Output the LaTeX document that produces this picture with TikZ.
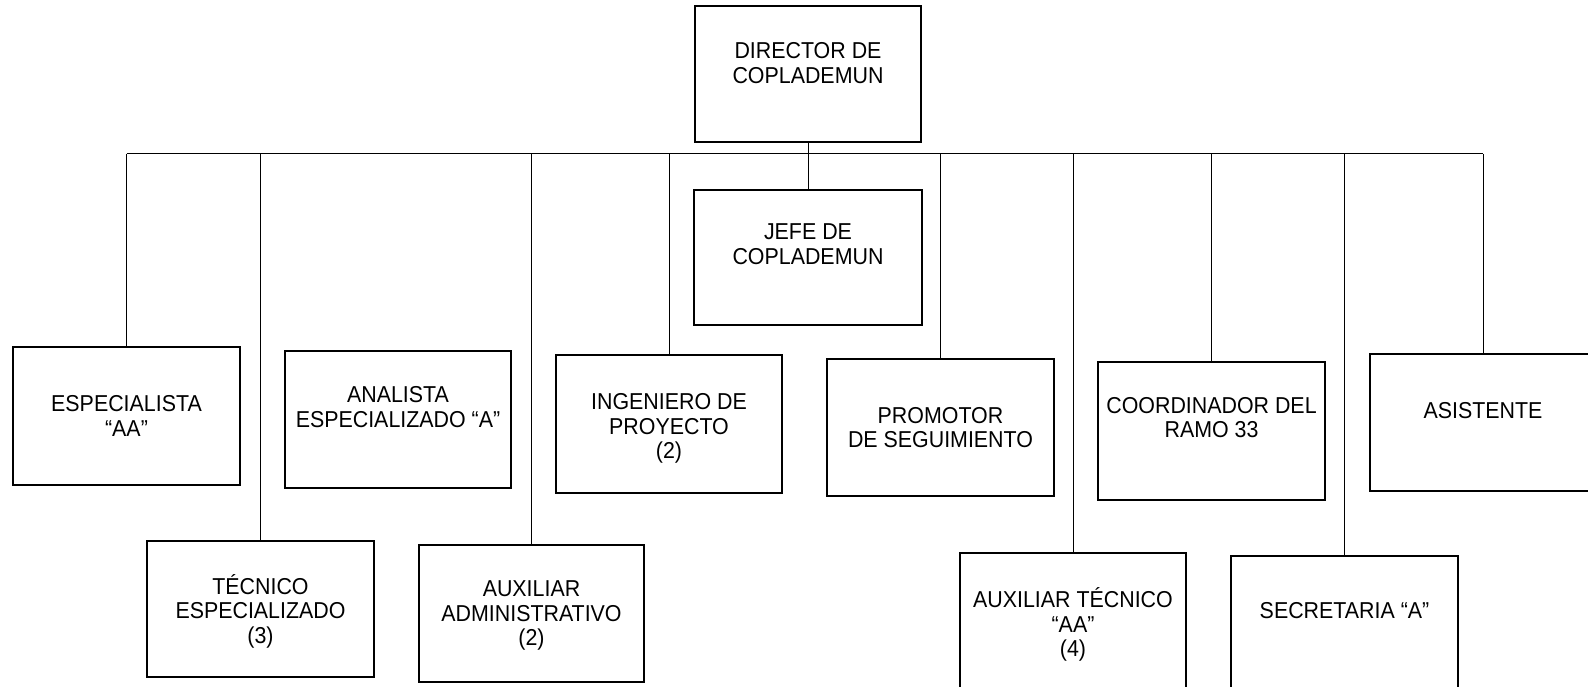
\documentclass[tikz,border=0pt]{standalone}
\usepackage{fontspec}
\newfontfamily\orgfont{Liberation Sans}[FakeStretch=0.93]
\begin{document}
\begin{tikzpicture}[x=1pt,y=-1pt,
  box/.style={draw, line width=1.5pt, minimum width=226pt, minimum height=137pt, inner sep=0pt},
  lbl/.style={font=\orgfont\fontsize{23pt}{24.5pt}\selectfont, align=center, inner sep=0pt, text depth=0pt},
  conn/.style={line width=1pt}]
\useasboundingbox (0,0) rectangle (1588,687);
\clip (0,0) rectangle (1588,687);
\fill[white] (0,0) rectangle (1588,687);

% boxes
\node[box, minimum height=136pt] (dir) at (808,74) {};
\node[box, minimum width=228pt, minimum height=135pt] (jefe) at (808,257.5) {};
\node[box, minimum width=227pt, minimum height=138pt] (esp) at (126.5,416) {};
\node[box] (ana) at (398,419.5) {};
\node[box, minimum height=138pt] (ing) at (669,424) {};
\node[box, minimum width=227pt] (pro) at (940.5,427.5) {};
\node[box, minimum width=227pt, minimum height=138pt] (coo) at (1211.5,431) {};
\node[box] (asi) at (1483,422.5) {};
\node[box, minimum width=227pt, minimum height=136pt] (tec) at (260.5,609) {};
\node[box, minimum width=225pt] (aux) at (531.5,613.5) {};
\node[box] (axt) at (1073,621.5) {};
\node[box, minimum width=227pt] (sec) at (1344.5,624.5) {};

% labels
\node[lbl] (dir-t) at ([yshift=11pt]dir.center) {DIRECTOR DE\\COPLADEMUN};
\node[lbl] (jefe-t) at ([yshift=13.5pt]jefe.center) {JEFE DE\\COPLADEMUN};
\node[lbl] (esp-t) at (esp.center) {ESPECIALISTA\\“AA”};
\node[lbl] (ana-t) at ([yshift=12.5pt]ana.center) {ANALISTA\\ESPECIALIZADO “A”};
\node[lbl] (ing-t) at ([yshift=-2pt]ing.center) {INGENIERO DE\\PROYECTO\\(2)};
\node[lbl] (pro-t) at (pro.center) {PROMOTOR\\DE SEGUIMIENTO};
\node[lbl] (coo-t) at ([yshift=13.5pt]coo.center) {COORDINADOR DEL\\RAMO 33};
\node[lbl] (asi-t) at ([yshift=12.5pt]asi.center) {ASISTENTE};
\node[lbl] (tec-t) at (tec.center) {TÉCNICO\\ESPECIALIZADO\\(3)};
\node[lbl] (aux-t) at (aux.center) {AUXILIAR\\ADMINISTRATIVO\\(2)};
\node[lbl] (axt-t) at ([yshift=-1pt]axt.center) {AUXILIAR TÉCNICO\\“AA”\\(4)};
\node[lbl] (sec-t) at ([yshift=14pt]sec.center) {SECRETARIA “A”};

% connectors
\coordinate (bus) at (0,154);
\draw[conn] (esp.north |- bus) -- (asi.north |- bus);
\draw[conn] (dir.south) -- (jefe.north);
\foreach \n in {esp,tec,aux,ing,pro,axt,coo,sec,asi}
  \draw[conn] (\n.north |- bus) -- (\n.north);
\end{tikzpicture}
\end{document}
